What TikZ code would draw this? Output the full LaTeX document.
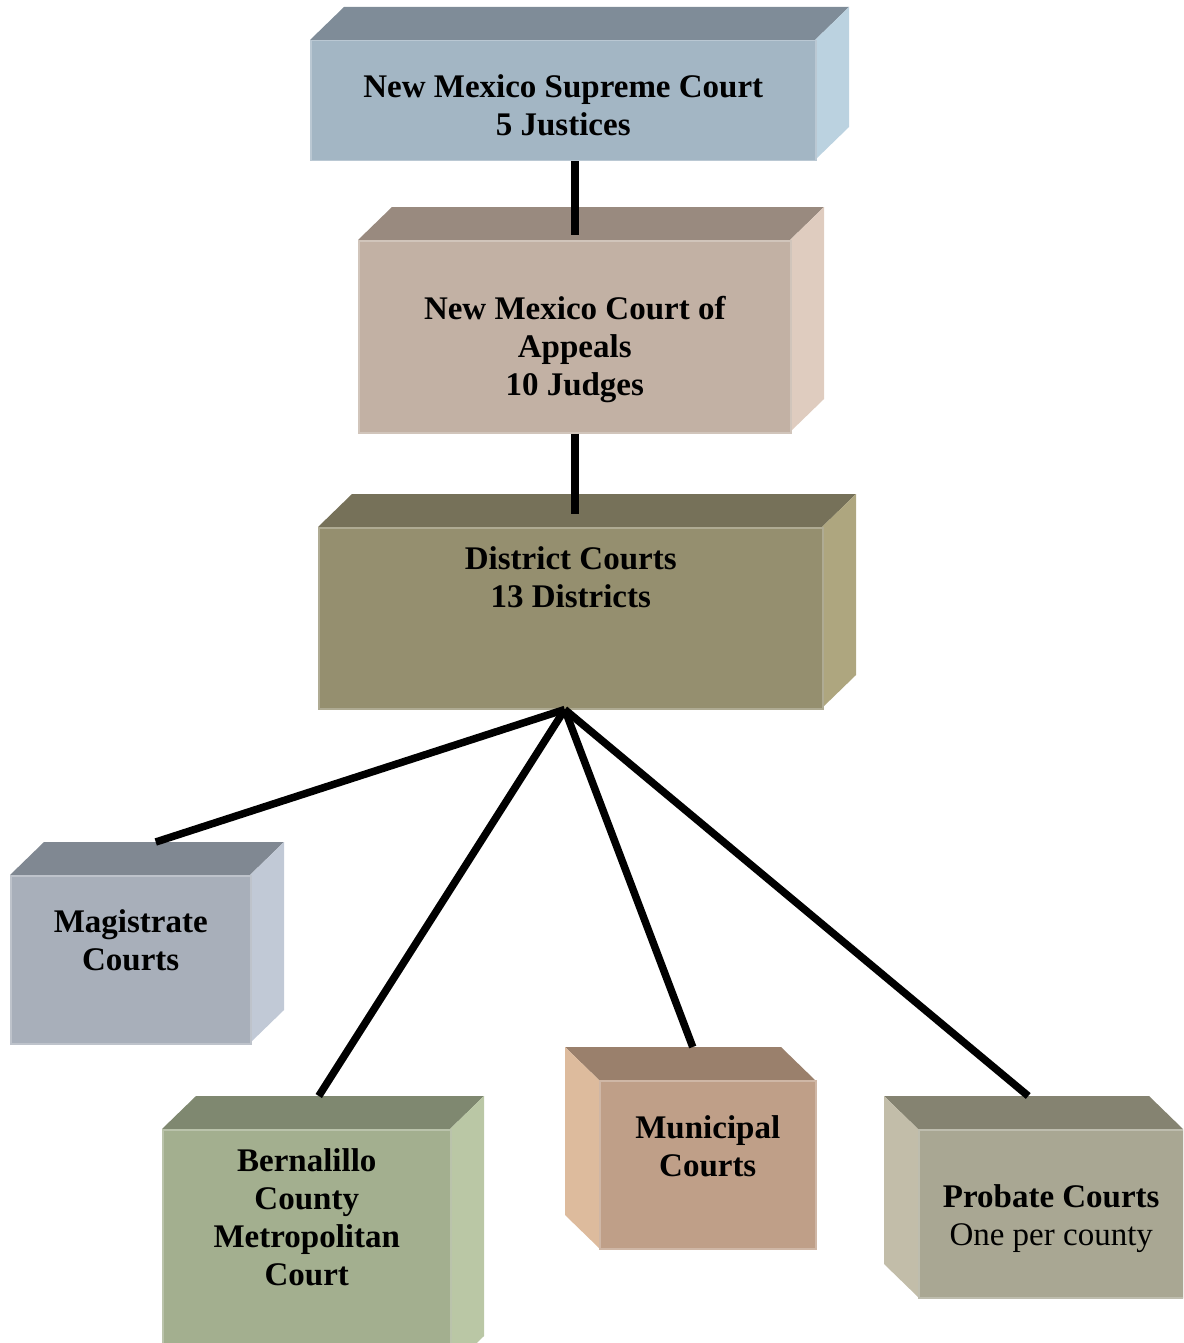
\documentclass[tikz,border=0pt]{standalone}
\usepackage{fontspec}
\setmainfont{Liberation Serif}
\usetikzlibrary{calc}

\definecolor{suptop}{HTML}{7F8C98}
\definecolor{supfront}{HTML}{A3B6C4}
\definecolor{supside}{HTML}{BBD2E0}
\definecolor{apptop}{HTML}{998A7F}
\definecolor{appfront}{HTML}{C2B1A4}
\definecolor{appside}{HTML}{DFCCBF}
\definecolor{disttop}{HTML}{767159}
\definecolor{distfront}{HTML}{958F6F}
\definecolor{distside}{HTML}{AEA67F}
\definecolor{magtop}{HTML}{808892}
\definecolor{magfront}{HTML}{A8AFBA}
\definecolor{magside}{HTML}{C1C9D6}
\definecolor{berntop}{HTML}{7F8870}
\definecolor{bernfront}{HTML}{A3AF8F}
\definecolor{bernside}{HTML}{BAC7A5}
\definecolor{munitop}{HTML}{9A806C}
\definecolor{munifront}{HTML}{BF9F88}
\definecolor{muniside}{HTML}{DDBB9D}
\definecolor{probtop}{HTML}{858371}
\definecolor{probfront}{HTML}{A9A793}
\definecolor{probside}{HTML}{C2BDA9}

\tikzset{
    courtface/.style={inner sep=0pt, line width=1.5pt, anchor=north west},
    courttext/.style={align=center, font=\fontsize{33}{38}\selectfont\bfseries, inner sep=0pt},
    courtline/.style={line width=7.5pt, black},
}

% #1 name, #2 colour prefix, #3 x, #4 y, #5 width, #6 height, #7 depth (sign gives side)
\newcommand\courtbox[7]{
    \fill[#2top] (#3,#4) -- ++(#7,-33) -- ++(#5,0) -- (#3+#5,#4) -- cycle;
    \fill[#2side] ({#3+(#7>0)*#5},#4) -- ++(#7,-33) -- ++(0,#6) -- ({#3+(#7>0)*#5},#4+#6) -- cycle;
    \node[courtface, fill=#2front, draw=#2front!75!white, minimum width=#5pt, minimum height=#6pt] (#1) at (#3,#4) {};
}

\begin{document}
\begin{tikzpicture}[x=1pt, y=-1pt]
        \clip (0,0) rectangle (1183,1343);

        \courtbox{sup}{sup}{310}{40}{505}{120}{34}
        \courtbox{app}{app}{358}{240}{432}{192}{34}
        \courtbox{dist}{dist}{318}{527}{504}{181}{34}
        \courtbox{mag}{mag}{10}{875}{240}{168}{34}
        \courtbox{bern}{bern}{162}{1129}{288}{240}{34}
        \courtbox{muni}{muni}{599}{1080}{216}{168}{-34}
        \courtbox{prob}{prob}{918}{1129}{265}{168}{-34}

        \node[courttext] (sup text) at ($(sup.center)+(0,5)$) {New Mexico Supreme Court\\5 Justices};
        \node[courttext] (app text) at ($(app.center)+(0,13)$) {New Mexico Court of\\Appeals\\10 Judges};
        \node[courttext] (dist text) at ($(dist.north)+(0,50)$) {District Courts\\13 Districts};
        \node[courttext] (mag text) at ($(mag.center)+(0,-20)$) {Magistrate\\Courts};
        \node[courttext] (bern text) at ($(bern.north)+(0,88)$) {Bernalillo\\County\\Metropolitan\\Court};
        \node[courttext] (muni text) at ($(muni.center)+(0,-19)$) {Municipal\\Courts};
        \node[courttext] (prob text) at ($(prob.center)+(0,5)$) {Probate Courts\\\mdseries One per county};

        % connectors
        \draw[courtline] (app.north |- sup.south) -- ($(app.north)+(0,-5)$);
        \draw[courtline] (app.south) -- ($(app.south |- dist.north)+(0,-13)$);

        \coordinate (fan) at ($(dist.south)+(-6,0)$);
        \draw[courtline] (fan) -- ($(mag.north)+(25,-33)$);
        \draw[courtline] (fan) -- ($(bern.north)+(12,-33)$);
        \draw[courtline] (fan) -- ($(muni.north)+(-15,-33)$);
        \draw[courtline] (fan) -- ($(prob.north)+(-23,-33)$);
    \end{tikzpicture}
\end{document}
